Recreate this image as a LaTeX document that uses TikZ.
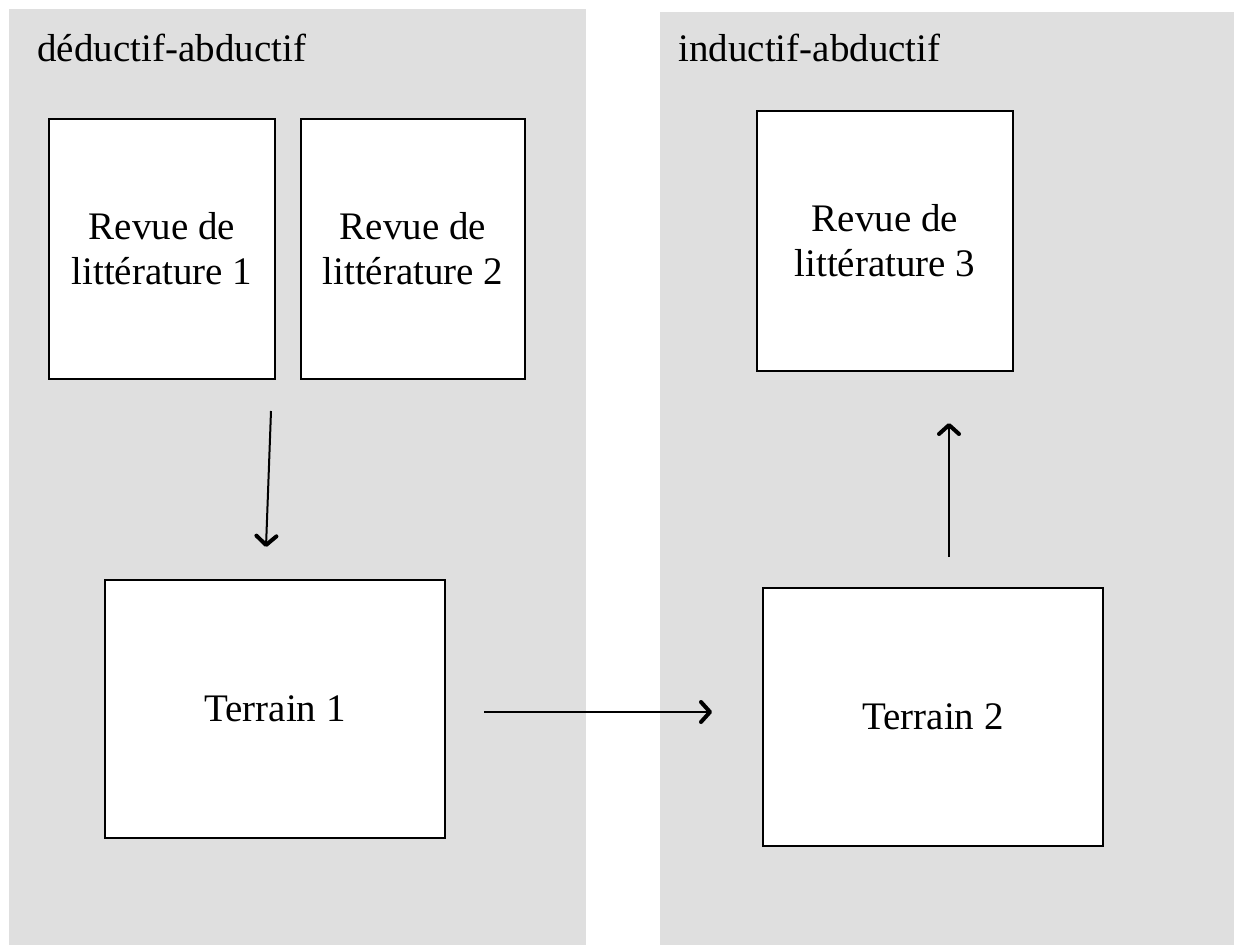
\documentclass[tikz,border=0pt]{standalone}
\usepackage{fontspec}
\setmainfont{Liberation Serif}
\usepackage{tikz}
\usetikzlibrary{arrows.meta, positioning, calc}
\definecolor{PanelGray}{HTML}{DFDFDF}
\tikzset{
  % Box styles
  panel/.style={fill=PanelGray, draw=none},
  paneltitle/.style={anchor=base west, inner sep=0pt, font=\fontsize{19.5}{22.5}\selectfont},
  stepbox/.style={rectangle, draw=black, line width=1pt, fill=white, align=center, font=\fontsize{19.5}{22.5}\selectfont, inner sep=0pt},
  % Arrow styles
  arrow/.style={-{Straight Barb[length=4.5pt, width=10pt, line width=2pt, round]}, line width=1pt, black}
}
\begin{document}
\begin{tikzpicture}[x=0.5pt, y=-0.5pt]
  \useasboundingbox (0,0) rectangle (1234,945);

  % Panels
  \fill[panel] (9,9) rectangle (586,945);
  \fill[panel] (660,12) rectangle (1234,945);
  \node[paneltitle] (ded) at (37,62) {déductif-abductif};
  \node[paneltitle] (ind) at (678,62) {inductif-abductif};

  % Literature reviews
  \node[stepbox, minimum width=113pt, minimum height=130pt] (rl1) at (162,249) {Revue de\\littérature 1};
  \node[stepbox, minimum width=112pt, minimum height=130pt] (rl2) at (413,249) {Revue de\\littérature 2};
  \node[stepbox, minimum width=128pt, minimum height=130pt] (rl3) at (885,241) {Revue de\\littérature 3};

  % Fieldwork
  \node[stepbox, minimum width=170pt, minimum height=129pt] (t1) at (275,709) {Terrain 1};
  \node[stepbox, minimum width=170pt, minimum height=129pt] (t2) at (933,717) {Terrain 2};

  \draw[arrow] ([xshift=-2.5pt, yshift=-15.5pt]rl1.south east) -- ([xshift=-4.5pt, yshift=16pt]t1.north);
  \draw[arrow] ([xshift=19pt, yshift=-1.5pt]t1.east) -- ([xshift=-25pt, yshift=2.5pt]t2.west);
  \draw[arrow] ([xshift=8pt, yshift=15pt]t2.north) -- ([xshift=32pt, yshift=-25.5pt]rl3.south);
\end{tikzpicture}
\end{document}
